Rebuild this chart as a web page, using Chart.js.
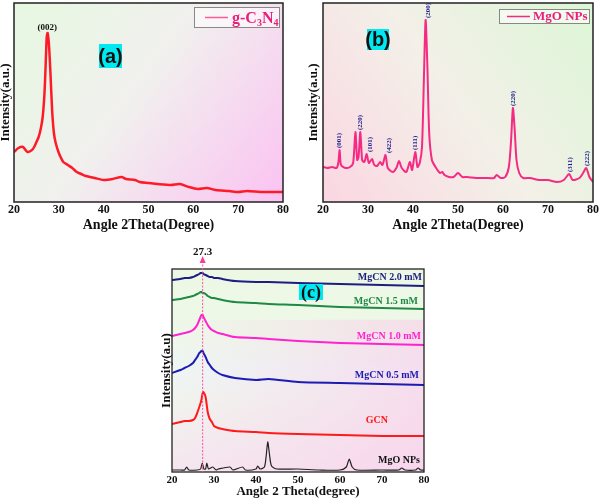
<!DOCTYPE html>
<html><head><meta charset="utf-8">
<script src="https://cdn.jsdelivr.net/npm/chart.js@4.4.0/dist/chart.umd.min.js"></script>
<style>
html,body{margin:0;padding:0;background:#fff;width:600px;height:504px;overflow:hidden;position:relative}
canvas{position:absolute}
</style></head><body>
<canvas id="ca" width="300" height="232" style="left:0;top:0"></canvas>
<canvas id="cb" width="300" height="232" style="left:300px;top:0"></canvas>
<canvas id="cc" width="320" height="272" style="left:140px;top:232px"></canvas>
<script>
// ---------- DATA ----------
// Panel (a): g-C3N4
const degA = [20,21,22,23,24,24.5,25,25.5,26,26.4,26.8,27.1,27.3,27.5,27.8,28.1,28.5,28.9,29.3,30,30.5,31,32,33,34,35,36,38,40,42,44,45,47,48,50,52,55,57,59,61,63,65,68,70,72,75,78,80];
const intA = [50,54,55,50,52,55,60,65,74,85,109,142,165,169,157,132,92,69,59,49,44,40,37,34,30,28,26,24,22,23,25,23,22,20,19,18,17,18,15,13,14,12,11,10,11,10,10,10];

// Panel (b): MgO NPs
const degB = [20,21,22,23,23.4,23.7,24,25,26,26.7,27.2,27.6,27.9,28.3,28.7,29.2,29.7,30.2,30.9,31.4,32,32.7,33.2,33.9,34.4,35.5,36.3,36.9,37.5,38.5,39.3,39.8,40.5,41,41.5,42,42.4,42.8,43.2,43.6,44.2,45,46,46.5,47,48,49,50,51,52,54,56,58,58.6,59.5,60.5,61.3,61.8,62.2,62.6,63,63.6,64.5,66,68,70,72,73.5,74.7,75.5,77,77.8,78.5,79.2,80];
const intB = [35,34,35,34,39,52,37,34,35,39,70,42,45,70,42,40,48,39,43,37,36,40,37,47,34,30,34,41,34,30,40,32,50,35,39,55,119,182,135,69,42,35,29,30,27,25,25,29,25,25,24,24,24,27,24,25,35,62,94,72,42,29,24,24,22,22,20,22,28,22,24,29,34,25,20];
const peakTextB = ["(001)","(220)","(101)","(422)","(111)","(200)","(220)","(311)","(222)"];
const peakDegB  = [23.7,28.3,30.4,34.6,40.5,43.3,62.2,74.9,78.7];
const peakValB  = [52,70,48,47,50,182,94,28,34];

// Panel (c)
const degC = [20,22,23,24,25,25.5,26,26.5,26.8,27,27.3,27.5,28,28.5,29,29.5,30,31,32,35,40,43,50,60,70,80];
const cMgCN20 = [192,193,194,194,195,196,197,198,199,199,199,198,197,196,195,195,194,194,193,191,190,190,189,188,187,186];
const cMgCN15 = [172,173,174,175,176,177,178,179,180,180,179,179,178,176,175,174,174,173,172,170,169,168,167,165,164,163];
const cMgCN10 = [136,138,139,140,142,144,147,152,155,157,157,155,151,147,144,142,141,139,138,135,134,133,131,129,128,127];
const cMgCN05 = [99,102,104,106,109,112,115,119,120,121,121,119,115,110,107,104,102,99,97,94,92,93,90,89,88,87];
const cGCN    = [48,50,51,51,52,54,59,65,69,72,79,80,75,60,53,50,46,44,43,41,40,39,38,37,36,36];
const degMgO = [20,22,23,23.5,24,26,26.8,27.2,27.6,28,28.3,28.7,29.7,30.5,31,33.8,34.5,36.8,37.5,40,40.4,41,42,42.4,42.8,43.2,43.7,45,50,55,60,61.5,62.2,62.9,64,70,74,74.7,75.5,78,78.6,79.2,80];
const cMgO   = [2,2,2,5,2,2,3,9,3,3,9,3,5,2,3,5,2,5,2,3,6,3,5,15,30,18,6,3,3,2,2,5,13,5,2,2,2,4,2,2,4,2,2];
const labelsC = ["MgCN 2.0 mM","MgCN 1.5 mM","MgCN 1.0 mM","MgCN 0.5 mM","GCN","MgO NPs"];
const peakMarkC = 27.3;

// ---------- HELPERS ----------
const SERIF = "'Liberation Serif','Times New Roman',serif";
const SANS = "'Liberation Sans',Arial,sans-serif";
const pts = (xs, ys) => xs.map((x, i) => ({x: x, y: ys[i]}));
const line = (xs, ys, color, w) => ({data: pts(xs, ys), borderColor: color, borderWidth: w, pointRadius: 0, tension: 0.25, fill: false});

function scales(xTitle, yTitle, yMax, xH, yW, tickSize, tickPad, xTitlePadB, xTitleSize, yTitlePadT, yTitleSize) {
  return {
    x: {type: 'linear', min: 20, max: 80,
        ticks: {stepSize: 10, color: '#111', padding: tickPad, maxRotation: 0, autoSkip: false,
                font: {family: SERIF, size: tickSize, weight: 'bold'}},
        grid: {display: false, drawTicks: false, tickLength: 0}, border: {display: false},
        title: {display: true, text: xTitle, color: '#111', padding: {top: 0, bottom: xTitlePadB},
                font: {family: SERIF, size: xTitleSize, weight: 'bold', lineHeight: 1}},
        afterFit: s => { s.height = xH; }},
    y: {type: 'linear', min: 0, max: yMax,
        ticks: {display: false}, grid: {display: false, drawTicks: false, tickLength: 0}, border: {display: false},
        title: {display: true, text: yTitle, color: '#111', padding: {top: yTitlePadT, bottom: 0},
                font: {family: SERIF, size: yTitleSize, weight: 'bold', lineHeight: 1}},
        afterFit: s => { s.width = yW; }}
  };
}

function frame(chart, lw) {
  const {ctx, chartArea: a} = chart;
  ctx.save();
  ctx.strokeStyle = '#222'; ctx.lineWidth = lw;
  ctx.strokeRect(a.left, a.top, a.right - a.left, a.bottom - a.top);
  ctx.restore();
}
function tagBox(ctx, x, y, w, h, text, font) {
  ctx.save();
  ctx.fillStyle = '#00e8f0';
  ctx.fillRect(x, y, w, h);
  ctx.fillStyle = '#111'; ctx.font = font;
  ctx.textAlign = 'center'; ctx.textBaseline = 'middle';
  ctx.fillText(text, x + w / 2, y + h / 2 + 1);
  ctx.restore();
}

Chart.defaults.animation = false;
Chart.defaults.responsive = false;
Chart.defaults.devicePixelRatio = 1;
Chart.defaults.plugins.legend.display = false;
Chart.defaults.plugins.tooltip.enabled = false;

// ---------- PANEL A ----------
new Chart(document.getElementById('ca'), {
  type: 'line',
  data: {datasets: [line(degA, intA, '#ff1a2a', 2.5)]},
  options: {
    layout: {padding: {left: 0, top: 3, right: 17, bottom: 0}},
    scales: scales('Angle 2Theta(Degree)', 'Intensity(a.u.)', 199, 30, 14, 12, 1, 0, 14, -1, 13)
  },
  plugins: [{
    id: 'a',
    beforeDraw(chart) {
      const {ctx, chartArea: a} = chart;
      const g = ctx.createLinearGradient(a.left, a.top, a.right, a.bottom);
      g.addColorStop(0, '#e6f8e0'); g.addColorStop(0.45, '#f1f0ee'); g.addColorStop(1, '#fbc2f2');
      ctx.save(); ctx.fillStyle = g; ctx.fillRect(a.left, a.top, a.right - a.left, a.bottom - a.top); ctx.restore();
    },
    afterDraw(chart) {
      const {ctx} = chart;
      frame(chart, 1.5);
      ctx.save();
      // legend
      ctx.fillStyle = 'rgba(255,255,255,0.55)'; ctx.fillRect(194.5, 7.5, 85, 20);
      ctx.strokeStyle = '#888'; ctx.lineWidth = 1; ctx.strokeRect(194.5, 7.5, 85, 20);
      ctx.strokeStyle = '#ff5a95'; ctx.lineWidth = 1.5;
      ctx.beginPath(); ctx.moveTo(205, 17.5); ctx.lineTo(228, 17.5); ctx.stroke();
      ctx.fillStyle = '#e8207a'; ctx.textBaseline = 'alphabetic'; ctx.textAlign = 'left';
      let x = 232;
      const parts = [['g-C', 16, 23], ['3', 10, 26], ['N', 16, 23], ['4', 10, 26]];
      parts.forEach(([t, s, y]) => { ctx.font = 'bold ' + s + 'px ' + SERIF; ctx.fillText(t, x, y); x += ctx.measureText(t).width; });
      // (002)
      ctx.fillStyle = '#111'; ctx.font = 'bold 9px ' + SERIF; ctx.textAlign = 'center'; ctx.textBaseline = 'middle';
      const xs = chart.scales.x;
      ctx.fillText('(002)', xs.getPixelForValue(27.4), 28);
      ctx.restore();
      tagBox(ctx, 99, 44, 23, 24, '(a)', 'bold 20px ' + SANS);
    }
  }]
});

// ---------- PANEL B ----------
new Chart(document.getElementById('cb'), {
  type: 'line',
  data: {datasets: [line(degB, intB, '#f52a82', 2)]},
  options: {
    layout: {padding: {left: 0, top: 3, right: 7, bottom: 0}},
    scales: scales('Angle 2Theta(Degree)', 'Intensity(a.u.)', 199, 30, 23, 12, 1, 0, 14, 7, 13)
  },
  plugins: [{
    id: 'b',
    beforeDraw(chart) {
      const {ctx, chartArea: a} = chart;
      const g = ctx.createLinearGradient(a.left, a.bottom, a.right, a.top);
      g.addColorStop(0, '#fbd6e2'); g.addColorStop(0.5, '#f3f0e8'); g.addColorStop(1, '#dcf6d6');
      ctx.save(); ctx.fillStyle = g; ctx.fillRect(a.left, a.top, a.right - a.left, a.bottom - a.top); ctx.restore();
    },
    afterDraw(chart) {
      const {ctx} = chart;
      frame(chart, 1.5);
      const xs = chart.scales.x, ys = chart.scales.y;
      ctx.save();
      // legend
      ctx.fillStyle = 'rgba(255,255,255,0.55)'; ctx.fillRect(199.5, 9.5, 90, 14);
      ctx.strokeStyle = '#888'; ctx.lineWidth = 1; ctx.strokeRect(199.5, 9.5, 90, 14);
      ctx.strokeStyle = '#f52a82'; ctx.lineWidth = 1.5;
      ctx.beginPath(); ctx.moveTo(207, 16.5); ctx.lineTo(230, 16.5); ctx.stroke();
      ctx.fillStyle = '#e8207a'; ctx.font = 'bold 13px ' + SERIF; ctx.textAlign = 'left'; ctx.textBaseline = 'middle';
      ctx.fillText('MgO NPs', 233, 17);
      // peak labels
      ctx.fillStyle = '#1c1c8c'; ctx.font = 'bold 7px ' + SERIF;
      peakTextB.forEach((t, i) => {
        const px = xs.getPixelForValue(peakDegB[i]);
        const py = ys.getPixelForValue(peakValB[i]) - 2;
        ctx.save(); ctx.translate(px, py); ctx.rotate(-Math.PI / 2);
        ctx.textAlign = 'left'; ctx.textBaseline = 'middle'; ctx.fillText(t, 0, 0);
        ctx.restore();
      });
      ctx.restore();
      tagBox(ctx, 67, 29, 22, 21, '(b)', 'bold 20px ' + SANS);
    }
  }]
});

// ---------- PANEL C ----------
new Chart(document.getElementById('cc'), {
  type: 'line',
  data: {datasets: [
    line(degC, cMgCN20, '#1e1e82', 2),
    line(degC, cMgCN15, '#1f8a44', 2),
    line(degC, cMgCN10, '#ff22d0', 2),
    line(degC, cMgCN05, '#1c1cb4', 2),
    line(degC, cGCN, '#ff1a1a', 2),
    line(degMgO, cMgO, '#222', 1.2)
  ]},
  options: {
    layout: {padding: {left: 0, top: 37, right: 36, bottom: 0}},
    scales: scales('Angle 2 Theta(degree)', 'Intensity(a.u)', 203, 32, 32, 11, 2, 5.5, 13, 20, 13)
  },
  plugins: [{
    id: 'c',
    beforeDraw(chart) {
      const {ctx, chartArea: a} = chart;
      const w = a.right - a.left, h = a.bottom - a.top;
      ctx.save();
      const g = ctx.createLinearGradient(0, a.top, 0, a.bottom);
      g.addColorStop(0, '#ecf8e4'); g.addColorStop(0.3, '#eef8e8'); g.addColorStop(0.5, '#eef6f4');
      g.addColorStop(0.65, '#f1f3ee'); g.addColorStop(1, '#f5e6ef');
      ctx.fillStyle = g; ctx.fillRect(a.left, a.top, w, h);
      const g2 = ctx.createLinearGradient(a.left, 0, a.right, 0);
      g2.addColorStop(0, 'rgba(251,200,235,0)'); g2.addColorStop(0.5, 'rgba(251,200,235,0.25)'); g2.addColorStop(1, 'rgba(251,200,235,0.55)');
      ctx.fillStyle = g2; ctx.fillRect(a.left, a.top + h * 0.25, w, h * 0.75);
      ctx.restore();
    },
    afterDraw(chart) {
      const {ctx, chartArea: a} = chart;
      const xs = chart.scales.x;
      frame(chart, 1.3);
      ctx.save();
      // marker line 27.3
      const mx = xs.getPixelForValue(peakMarkC);
      ctx.strokeStyle = '#ff4aa0'; ctx.lineWidth = 1; ctx.setLineDash([2, 1.5]);
      ctx.beginPath(); ctx.moveTo(mx, 29); ctx.lineTo(mx, a.bottom); ctx.stroke();
      ctx.setLineDash([]);
      ctx.fillStyle = '#ff3a98';
      ctx.beginPath(); ctx.moveTo(mx, 24); ctx.lineTo(mx - 3, 31); ctx.lineTo(mx + 3, 31); ctx.closePath(); ctx.fill();
      ctx.fillStyle = '#111'; ctx.font = 'bold 11px ' + SERIF; ctx.textAlign = 'center'; ctx.textBaseline = 'middle';
      ctx.fillText(String(peakMarkC), mx, 20);
      // series labels
      ctx.font = 'bold 10px ' + SERIF; ctx.textAlign = 'right';
      const specs = [['#1e1e82', a.right - 2, 45], ['#1f8a44', a.right - 6, 69], ['#ff22d0', a.right - 3, 104],
                     ['#1c1cb4', a.right - 5, 143], ['#ff1a1a', a.right - 36, 188], ['#111', a.right - 4, 228]];
      labelsC.forEach((t, i) => { ctx.fillStyle = specs[i][0]; ctx.fillText(t, specs[i][1], specs[i][2]); });
      ctx.restore();
      tagBox(ctx, 159, 52, 24, 16, '(c)', 'bold 18px ' + SERIF);
    }
  }]
});
</script>
</body></html>
